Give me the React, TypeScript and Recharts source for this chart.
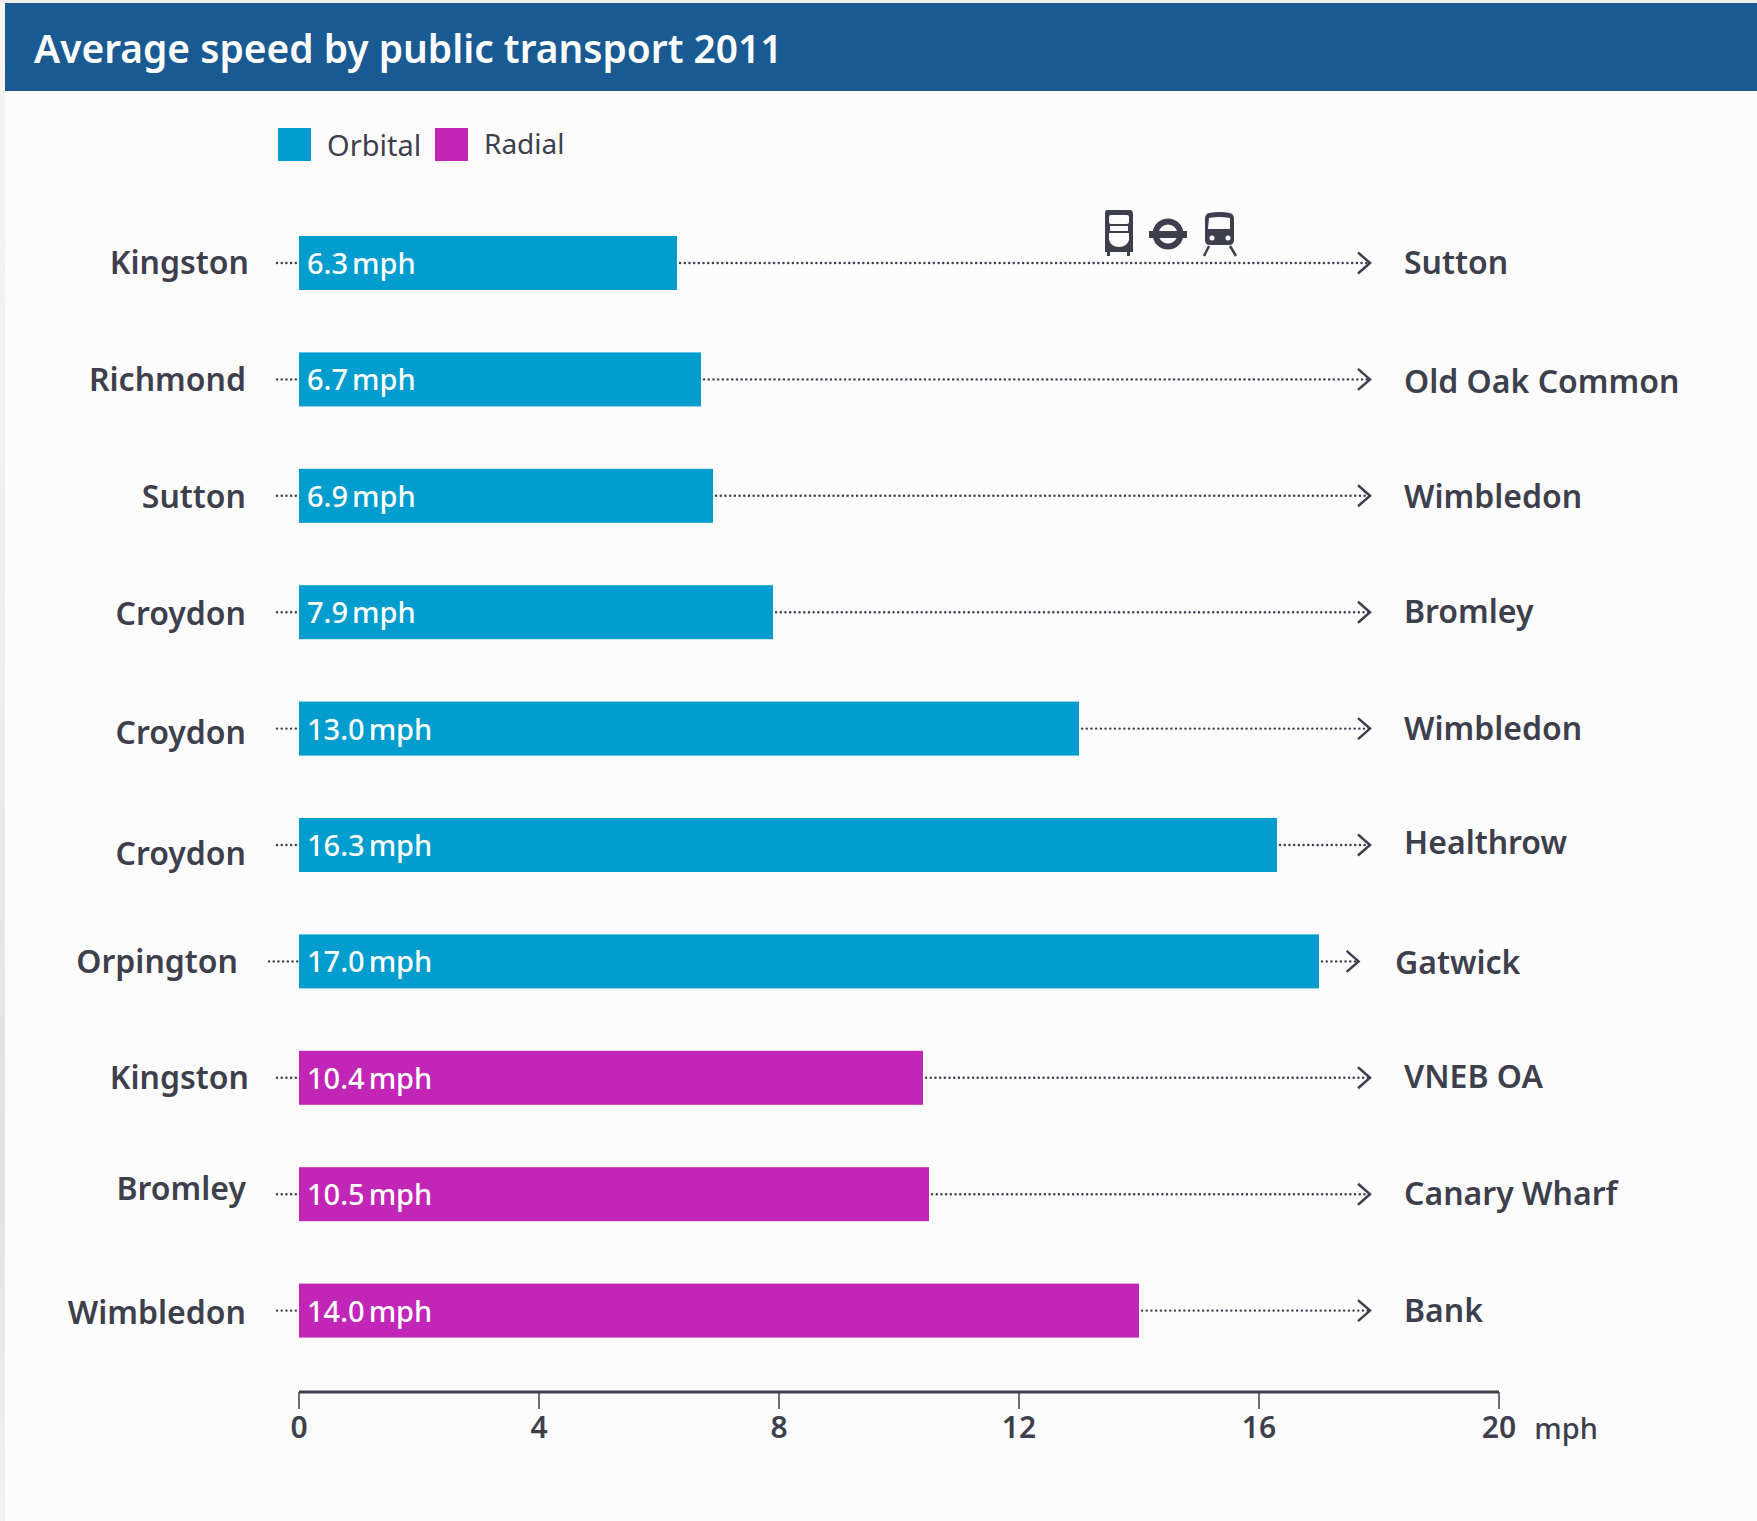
import React from 'react';
import { ComposedChart, Bar, XAxis, YAxis, Legend, Label } from 'recharts';

const fromPlaces = ['Kingston', 'Richmond', 'Sutton', 'Croydon', 'Croydon', 'Croydon', 'Orpington', 'Kingston', 'Bromley', 'Wimbledon'];
const toPlaces = ['Sutton', 'Old Oak Common', 'Wimbledon', 'Bromley', 'Wimbledon', 'Healthrow', 'Gatwick', 'VNEB OA', 'Canary Wharf', 'Bank'];
const orbitalSpeeds = [6.3, 6.7, 6.9, 7.9, 13.0, 16.3, 17.0, null, null, null];
const radialSpeeds = [null, null, null, null, null, null, null, 10.4, 10.5, 14.0];
const speedTicks = [0, 4, 8, 12, 16, 20];

const chartData = fromPlaces.map((from, i) => ({
  route: `${from}-${toPlaces[i]}-${i}`,
  from,
  to: toPlaces[i],
  orbital: orbitalSpeeds[i],
  radial: radialSpeeds[i],
}));

const FONT = '"Noto Sans", sans-serif';
const INK = '#3e3f4d';
const BLUE = '#009dce';
const PURPLE = '#c226b7';
const ARROW_TIP_MPH = 17.85;

// the labels in the original are hand placed, not quite on the row
const fromNudge = [[3, 0], [0, 0], [0, 1], [0, 2], [0, 4], [0, 9], [-8, 0], [3, 0], [0, -5], [0, 2]];
const toNudge = [[0, 0], [0, 2], [0, 1], [0, 0], [0, 0], [0, -2], [-9, 1], [0, -1], [0, 0], [0, 0]];

const SpeedBar = (props: any) => {
  const { x, y, width, height, fill, value, index } = props;
  const speed = Array.isArray(value) ? value[1] - value[0] : value;
  if (!speed) return null;
  const perMph = width / speed;
  const isGatwick = chartData[index].to === 'Gatwick';
  const tipX = x + (isGatwick ? 17.66 : ARROW_TIP_MPH) * perMph;
  const leadX = x - (isGatwick ? 30 : 22);
  const midY = y + height / 2;
  return (
    <g>
      <line x1={leadX} x2={x} y1={midY} y2={midY} stroke={INK} strokeWidth={2.4} strokeLinecap="round" strokeDasharray="0.1 4.6" />
      <line x1={x + width + 3} x2={tipX} y1={midY} y2={midY} stroke={INK} strokeWidth={2.4} strokeLinecap="round" strokeDasharray="0.1 4.6" />
      <path d={`M${tipX - 12} ${midY - 10.5} L${tipX} ${midY} L${tipX - 12} ${midY + 10.5}`} fill="none" stroke={INK} strokeWidth={2.5} />
      <rect x={x} y={y} width={width} height={height} fill={fill} />
      <text x={x + 8} y={midY + 11} fill="#fff" fontFamily={FONT} fontSize={29} fontWeight={500}>
        {speed.toFixed(1)}
        <tspan dx={4}>mph</tspan>
      </text>
    </g>
  );
};

const FromTick = (props: any) => {
  const { x, y, index } = props;
  return (
    <text x={x - 54 + 7 + fromNudge[index][0]} y={y + 11 + fromNudge[index][1]} textAnchor="end" fill={INK} fontFamily={FONT} fontSize={32} fontWeight={600}>
      {fromPlaces[index]}
    </text>
  );
};

const ToTick = (props: any) => {
  const { x, y, index } = props;
  return (
    <text x={x - 101 + toNudge[index][0]} y={y + 11 + toNudge[index][1]} textAnchor="start" fill={INK} fontFamily={FONT} fontSize={32} fontWeight={600}>
      {toPlaces[index]}
    </text>
  );
};

const legendText = { position: 'absolute', color: INK, fontFamily: FONT, fontSize: 29, lineHeight: '40px', whiteSpace: 'nowrap' } as const;

const LegendRow = () => (
  <div style={{ position: 'relative', width: 300, height: 40 }}>
    <div style={{ position: 'absolute', left: 0, top: 0, width: 33, height: 33, background: BLUE }} />
    <span style={{ ...legendText, left: 49, top: -3 }}>Orbital</span>
    <div style={{ position: 'absolute', left: 157, top: 0, width: 33, height: 33, background: PURPLE }} />
    <span style={{ ...legendText, left: 206, top: -5, fontSize: 28 }}>Radial</span>
  </div>
);

const TransportIcons = () => (
  <svg width={1757} height={1521} style={{ position: 'absolute', left: 0, top: 0, pointerEvents: 'none' }}>
    <g fill={INK}>
      <path d="M1107 210 H1130 Q1133 210 1133 214 V252 H1130 V256 H1127 V252 H1110 V256 H1107 V252 H1105 V214 Q1105 210 1107 210 Z" />
      <rect x={1109} y={215} width={20} height={9} fill="#fcfcfc" rx={2} />
      <rect x={1110} y={226} width={18} height={5} fill="#fcfcfc" />
      <path d="M1109 233 H1129 V240 Q1127 247 1119 247 Q1111 247 1109 240 Z" fill="#fcfcfc" />
      <circle cx={1168} cy={234} r={12.5} fill="none" stroke={INK} strokeWidth={6} />
      <rect x={1149} y={231} width={38} height={7} />
      <path d="M1209 213 Q1219 211 1230 213 Q1234 214 1234 219 V240 Q1234 245 1229 245 H1210 Q1205 245 1205 240 V219 Q1205 214 1209 213 Z" />
      <path d="M1209 218 Q1219 216 1230 218 V229 H1208 Z" fill="#fcfcfc" />
      <circle cx={1212} cy={238} r={2.5} fill="#fcfcfc" />
      <circle cx={1228} cy={238} r={2.5} fill="#fcfcfc" />
      <path d="M1209 246 L1204 256 M1230 246 L1236 256" stroke={INK} strokeWidth={2.5} />
    </g>
  </svg>
);

export default function App() {
  return (
    <div style={{ position: 'absolute', left: 0, top: 0, width: 1757, height: 1521, background: '#fcfcfc', overflow: 'hidden' }}>
      <div style={{ position: 'absolute', left: 0, top: 0, width: 5, height: 1521, background: 'linear-gradient(#f7f5f3, #f3ece7 45%, #e4e2df 75%, #f2f1f0)' }} />
      <div style={{ position: 'absolute', left: 0, top: 0, right: 0, height: 3, background: '#eeeeee' }} />
      <div style={{ position: 'absolute', left: 5, top: 3, right: 0, height: 88, background: '#1a5a92', color: '#fff', fontFamily: FONT, fontSize: 38.9, fontWeight: 600, lineHeight: '90px', paddingLeft: 29, boxSizing: 'border-box' }}>
        Average speed by public transport 2011
      </div>
      <ComposedChart
        width={1757}
        height={1521}
        data={chartData}
        layout="vertical"
        margin={{ top: 165, right: 0, bottom: 69, left: 0 }}
        barCategoryGap="26.7%"
        style={{ position: 'absolute', left: 0, top: 0 }}
      >
        <Legend verticalAlign="top" align="left" content={<LegendRow />} wrapperStyle={{ position: 'absolute', left: 278, top: 128, width: 300 }} />
        <XAxis
          type="number"
          domain={[0, 20]}
          ticks={speedTicks}
          height={60}
          axisLine={{ stroke: INK, strokeWidth: 3 }}
          tickLine={{ stroke: INK, strokeWidth: 1.5 }}
          tickSize={17}
          tickMargin={8}
          tick={{ fill: INK, fontFamily: FONT, fontSize: 30, fontWeight: 600 }}
        >
          <Label value="mph" position="insideBottomRight" dx={104} dy={-8} style={{ fontFamily: FONT, fontSize: 29, fontWeight: 500, fill: INK }} />
        </XAxis>
        <YAxis yAxisId="from" type="category" dataKey="route" width={299} padding={{ top: 0, bottom: 23 }} axisLine={false} tickLine={false} tickMargin={0} tick={<FromTick />} interval={0} />
        <YAxis yAxisId="to" type="category" dataKey="route" orientation="right" width={258} padding={{ top: 0, bottom: 23 }} axisLine={false} tickLine={false} tickMargin={0} tick={<ToTick />} interval={0} />
        <Bar yAxisId="from" dataKey="orbital" stackId="speed" name="Orbital" fill={BLUE} barSize={54} shape={<SpeedBar />} isAnimationActive={false} />
        <Bar yAxisId="from" dataKey="radial" stackId="speed" name="Radial" fill={PURPLE} barSize={54} shape={<SpeedBar />} isAnimationActive={false} />
      </ComposedChart>
      <TransportIcons />
    </div>
  );
}
